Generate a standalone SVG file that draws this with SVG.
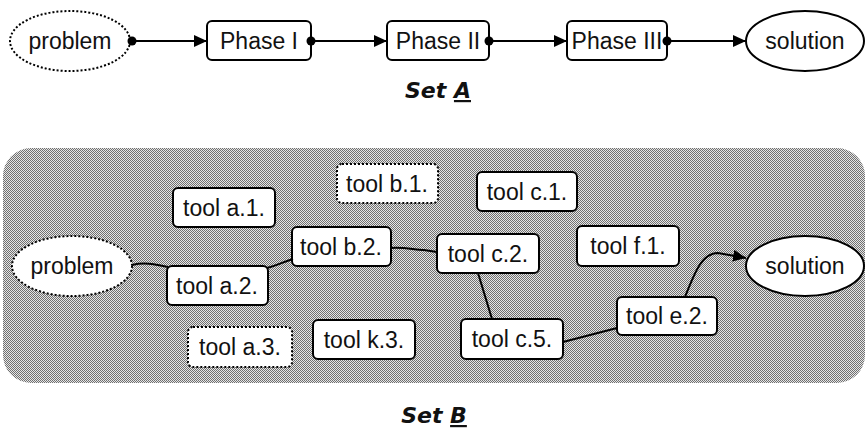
<svg xmlns="http://www.w3.org/2000/svg" width="868" height="430" viewBox="0 0 868 430">
<style>
.box{fill:#fff;stroke:#000;stroke-width:2}
.dot{stroke-dasharray:2 2}
.t{font-family:"Liberation Sans",Arial,sans-serif;font-size:23px;fill:#111;text-anchor:middle}
.title{font-family:"DejaVu Sans",Verdana,sans-serif;font-size:22px;font-weight:bold;font-style:italic;fill:#111;text-anchor:middle}
.ln{fill:none;stroke:#000;stroke-width:2}
</style>
<defs>
<pattern id="dith" width="2" height="2" patternUnits="userSpaceOnUse">
<rect width="2" height="2" fill="#e6e6e6"/>
<rect width="1" height="1" fill="#707070"/>
<rect x="1" y="1" width="1" height="1" fill="#707070"/>
</pattern>
<marker id="arr" markerWidth="14" markerHeight="12" refX="13" refY="6" orient="auto" markerUnits="userSpaceOnUse">
<path d="M0,0 L13,6 L0,12 Z" fill="#000"/>
</marker>
<marker id="ball" markerWidth="10" markerHeight="10" refX="5" refY="5" orient="auto" markerUnits="userSpaceOnUse">
<circle cx="5" cy="5" r="4.5" fill="#000"/>
</marker>
</defs>

<rect x="3" y="148" width="862" height="235" rx="28" fill="url(#dith)"/>

<g id="n-problem-a"><ellipse class="box dot" cx="70" cy="41" rx="60" ry="30"/><text class="t" x="70" y="49">problem</text></g>
<g id="n-phase1"><rect class="box" x="207" y="21" width="104" height="39" rx="5"/><text class="t" x="259" y="49">Phase I</text></g>
<g id="n-phase2"><rect class="box" x="387" y="21" width="102" height="39" rx="5"/><text class="t" x="438" y="49">Phase II</text></g>
<g id="n-phase3"><rect class="box" x="567" y="21" width="100" height="39" rx="5"/><text class="t" x="617" y="49">Phase III</text></g>
<g id="n-solution-a"><ellipse class="box" cx="805" cy="41" rx="59" ry="30"/><text class="t" x="805" y="49">solution</text></g>
<text class="title" x="438" y="98">Set <tspan text-decoration="underline">A</tspan></text>

<g id="n-problem-b"><ellipse class="box dot" cx="72" cy="266" rx="60" ry="30"/><text class="t" x="72" y="274">problem</text></g>
<g id="n-a1"><rect class="box" x="173" y="188" width="102" height="39" rx="5"/><text class="t" x="224" y="216">tool a.1.</text></g>
<g id="n-a2"><rect class="box" x="167" y="266" width="101" height="39" rx="5"/><text class="t" x="217" y="294">tool a.2.</text></g>
<g id="n-a3"><rect class="box dot" x="188" y="327" width="104" height="40" rx="5"/><text class="t" x="240" y="355">tool a.3.</text></g>
<g id="n-k3"><rect class="box" x="313" y="320" width="102" height="39" rx="5"/><text class="t" x="364" y="348">tool k.3.</text></g>
<g id="n-b1"><rect class="box dot" x="337" y="164" width="101" height="39" rx="5"/><text class="t" x="387" y="192">tool b.1.</text></g>
<g id="n-b2"><rect class="box" x="292" y="227" width="99" height="39" rx="5"/><text class="t" x="341" y="255">tool b.2.</text></g>
<g id="n-c1"><rect class="box" x="477" y="172" width="100" height="39" rx="5"/><text class="t" x="527" y="200">tool c.1.</text></g>
<g id="n-c2"><rect class="box" x="437" y="234" width="102" height="39" rx="5"/><text class="t" x="488" y="262">tool c.2.</text></g>
<g id="n-f1"><rect class="box" x="577" y="226" width="102" height="40" rx="5"/><text class="t" x="628" y="254">tool f.1.</text></g>
<g id="n-c5"><rect class="box" x="461" y="319" width="102" height="40" rx="5"/><text class="t" x="512" y="347">tool c.5.</text></g>
<g id="n-e2"><rect class="box" x="617" y="297" width="100" height="38" rx="5"/><text class="t" x="667" y="324">tool e.2.</text></g>
<g id="n-solution-b"><ellipse class="box" cx="805" cy="266" rx="59" ry="30"/><text class="t" x="805" y="274">solution</text></g>
<text class="title" x="434" y="423">Set <tspan text-decoration="underline">B</tspan></text>

<g id="connectors">
<path class="ln" d="M132,41 L207,41" marker-start="url(#ball)" marker-end="url(#arr)"/>
<path class="ln" d="M311,41 L387,41" marker-start="url(#ball)" marker-end="url(#arr)"/>
<path class="ln" d="M489,41 L567,41" marker-start="url(#ball)" marker-end="url(#arr)"/>
<path class="ln" d="M667,41 L746,41" marker-start="url(#ball)" marker-end="url(#arr)"/>
<path class="ln" d="M132,265 C145,262 150,264 158,265 L168,267"/>
<path class="ln" d="M267,268 C278,265 283,262 293,259"/>
<path class="ln" d="M391,248 C405,247 415,250 424,250 L437,252"/>
<path class="ln" d="M478,273 L492,319"/>
<path class="ln" d="M563,342 L617,328"/>
<path class="ln" d="M685,297 C695,272 702,253 718,253 L746,258" marker-end="url(#arr)"/>
</g>
</svg>
